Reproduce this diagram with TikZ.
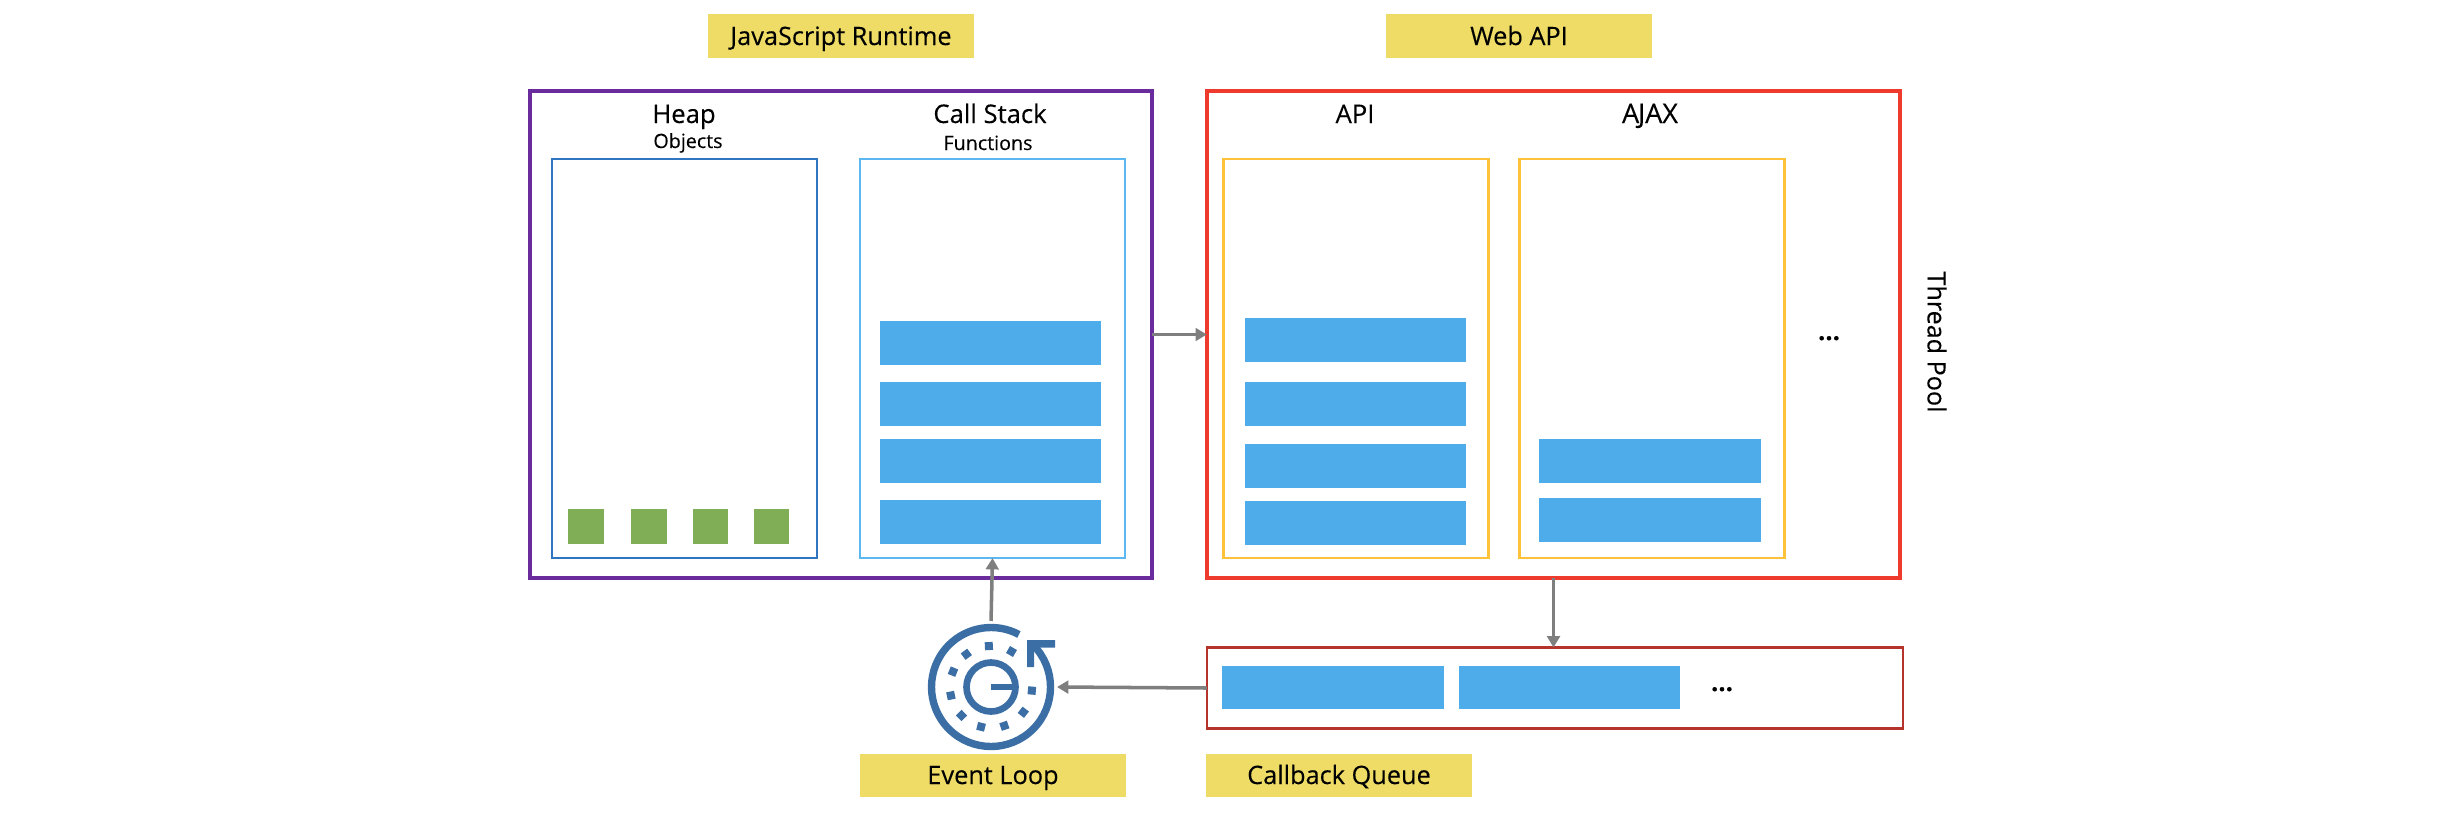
\documentclass[tikz,border=0pt]{standalone}
\usepackage{fontspec}
\setmainfont[FakeBold=0.2]{Open Sans}
\usetikzlibrary{arrows.meta}
\definecolor{tagyellow}{HTML}{EEDC66}
\definecolor{barblue}{HTML}{4EACEB}
\definecolor{slotgreen}{HTML}{7FAE57}
\definecolor{loopblue}{HTML}{3A6EA5}
\definecolor{flowgray}{HTML}{7F7F7F}
\definecolor{runviolet}{HTML}{6A2C9C}
\definecolor{webred}{HTML}{EE3B2E}
\definecolor{heapblue}{HTML}{2F75C0}
\definecolor{stackblue}{HTML}{5BB8F0}
\definecolor{apiyellow}{HTML}{FDC13A}
\definecolor{queuered}{HTML}{B5332B}
\begin{document}
\begin{tikzpicture}[
    x=0.01cm, y=0.01cm,
    tag/.style={fill=tagyellow, minimum width=2.66cm, minimum height=0.43cm, inner sep=0pt},
    tagtxt/.style={anchor=base, inner sep=0pt, font=\fontsize{7.2}{8}\selectfont},
    panel/.style={draw, line width=1.1pt, minimum height=4.87cm, inner sep=0pt, outer sep=0pt},
    inbox/.style={draw, line width=0.65pt, minimum width=2.65cm, minimum height=3.99cm, inner sep=0pt, outer sep=0pt},
    bar/.style={fill=barblue, minimum width=2.21cm, minimum height=0.43cm, inner sep=0pt},
    slot/.style={fill=slotgreen, minimum width=0.35cm, minimum height=0.35cm, inner sep=0pt},
    title/.style={anchor=base, font=\fontsize{7.3}{9}\selectfont, inner sep=0pt},
    sub/.style={anchor=base, font=\fontsize{5.6}{6}\selectfont, inner sep=0pt},
    flow/.style={draw=flowgray, line width=1pt, -{Triangle[length=3.2pt,width=3.6pt]}},
  ]
    \useasboundingbox (0,0) rectangle (2464,-830);
    \node[tag] (tagrun) at (841,-36) {};      \node[tagtxt] (runlbl) at (841,-45) {JavaScript Runtime};
    \node[tag] (tagweb) at (1519,-36) {};     \node[tagtxt] (weblbl) at (1519,-45) {Web API};
    \node[tag] (tagloop) at (993,-775) {};    \node[tagtxt] (looplbl) at (993,-784) {Event Loop};
    \node[tag] (tagqueue) at (1339,-775) {};  \node[tagtxt] (queuelbl) at (1339,-784) {Callback Queue};
    \node[panel, draw=runviolet, minimum width=6.22cm] (runtime) at (841,-334.5) {};
    \node[panel, draw=webred, minimum width=6.93cm] (webapi) at (1553.5,-334.5) {};
    \node[inbox, draw=heapblue] (heap) at (684.5,-358.5) {};
    \node[inbox, draw=stackblue] (stack) at (992.5,-358.5) {};
    \node[inbox, draw=apiyellow] (api) at (1356,-358.5) {};
    \node[inbox, draw=apiyellow] (ajax) at (1652,-358.5) {};
    \node[title] (heaplbl) at (684,-123) {Heap};        \node[sub] (objlbl) at (688,-148) {Objects};
    \node[title] (stacklbl) at (990,-123) {Call Stack}; \node[sub] (fnlbl) at (988,-150) {Functions};
    \node[title] (apilbl) at (1355,-123) {API};
    \node[title, font=\fontsize{7.7}{9}\selectfont] (ajaxlbl) at (1650,-123) {A\kern-0.35pt JAX};
    \node[title, anchor=center, rotate=-90, font=\fontsize{7.15}{9}\selectfont] (poollbl) at (1937,-342) {Thread Pool};
    \node[title, font=\fontsize{7.3}{9}\bfseries] (moreweb) at (1829,-340) {...};
    % heap objects
    \foreach \i/\sx in {1/586, 2/649, 3/710, 4/771}
      \node[slot] (slot\i) at (\sx,-526) {};
    % frames and tasks
    \foreach \i/\sy in {1/-343, 2/-404, 3/-461, 4/-522}
      \node[bar] (frame\i) at (990.5,\sy) {};
    \foreach \i/\sy in {1/-340, 2/-404, 3/-466, 4/-523}
      \node[bar] (apibar\i) at (1355.5,\sy) {};
    \node[bar] (ajaxbar1) at (1650,-461) {};
    \node[bar] (ajaxbar2) at (1650,-520) {};
    % queue
    \node[draw=queuered, line width=0.65pt, minimum width=6.96cm, minimum height=0.81cm, inner sep=0pt, outer sep=0pt] (queue) at (1555,-688) {};
    \node[bar] (cb1) at (1333,-687) {};
    \node[bar] (cb2) at (1569.5,-687) {};
    \node[title, font=\fontsize{7.3}{9}\bfseries] (moreq) at (1722,-691) {...};
    % event loop icon
    \node[circle, minimum size=1.32cm, inner sep=0pt, outer sep=0pt] (loop) at (991,-687) {};
    \begin{scope}[shift={(loop.center)}]
      \draw[loopblue, line width=2.1pt] (45:59.5) arc (45:-298:59.5);
      \draw[loopblue, line width=1.9pt] (0,0) circle (24.5);
      \draw[loopblue, line width=1.9pt] (0,0) -- (26,0);
      \fill[loopblue] (36,47) -- (64,47) -- (64,39.5) -- (43,39.5) -- (43,20) -- (36,20) -- cycle;
      \foreach \a in {93,60,127,158,192,224,256,289,322,355}
        \fill[loopblue, rotate=\a] (37,-4) rectangle (45,4);
    \end{scope}
    % flows
    \draw[flow] (runtime.east) -- (webapi.west);
    \draw[flow] (webapi.south) -- (webapi.south |- queue.north);
    \draw[flow] (queue.west) -- (loop.east);
    \draw[flow] (loop.north) -- (stack.south);
  \end{tikzpicture}
\end{document}
